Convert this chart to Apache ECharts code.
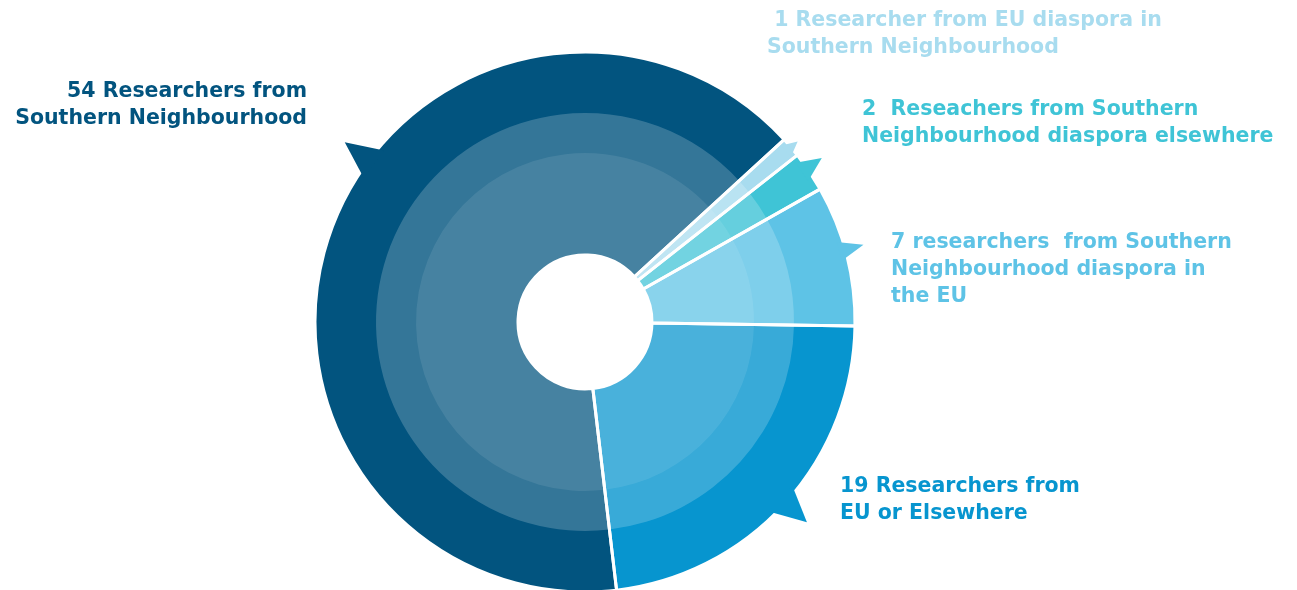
<!DOCTYPE html>
<html>
<head>
<meta charset="utf-8">
<script src="https://cdn.jsdelivr.net/npm/echarts@6/dist/echarts.min.js"></script>
<style>
  html, body { margin: 0; padding: 0; background: #fff; }
  #main { width: 1297px; height: 590px; }
</style>
</head>
<body>
<div id="main"></div>
<script>
// categories, clockwise from the top-right
var categories = [
  ' 1 Researcher from EU diaspora in\nSouthern Neighbourhood',
  '2  Reseachers from Southern\nNeighbourhood diaspora elsewhere',
  '7 researchers  from Southern\nNeighbourhood diaspora in\nthe EU',
  '19 Researchers from\nEU or Elsewhere',
  '54 Researchers from\nSouthern Neighbourhood'
];
var values = [1, 2, 7, 19, 54];
var colors = ['#a8dcef', '#3fc4d6', '#5ec3e6', '#0795cf', '#02547f'];

// label anchor (x, y top, align) and tail (fraction of slice, half width deg, tip radius)
var labelPos = [[767, 7, 'left'], [862, 96, 'left'], [891, 229, 'left'], [840, 473, 'left'], [307, 78, 'right']];
var tails = [[0.5, 1.6, 279], [0.4, 2.4, 288], [0.46, 2.1, 289], [0.5, 3.8, 299], [0.57, 3.7, 300]];

var CX = 585, CY = 322, R_OUT = 270, R_MID = 209, R_IN = 169, R_HOLE = 67;
var START = 42.5;

var total = values.reduce(function (a, b) { return a + b; }, 0);

var pieData = values.map(function (v, i) {
  return { name: categories[i], value: v, itemStyle: { color: colors[i] }, label: { color: colors[i] } };
});

var chart = echarts.init(document.getElementById('main'));

function slicePt(ang, r) {
  var a = ang * Math.PI / 180;
  return [CX + r * Math.cos(a), CY - r * Math.sin(a)];
}

chart.setOption({
  animation: false,
  series: [
    {
      type: 'pie',
      center: [CX, CY],
      radius: [R_HOLE, R_OUT],
      startAngle: START,
      avoidLabelOverlap: false,
      itemStyle: { borderWidth: 0 },
      label: {
        show: true,
        position: 'outside',
        fontFamily: 'DejaVu Sans',
        fontWeight: 'bold',
        fontSize: 20.5,
        lineHeight: 27,
        formatter: '{b}'
      },
      labelLine: { show: false },
      labelLayout: function (p) {
        var lp = labelPos[p.dataIndex];
        return { x: lp[0], y: lp[1], align: lp[2], verticalAlign: 'top', hideOverlap: false };
      },
      data: pieData
    },
    {
      type: 'pie', silent: true,
      center: [CX, CY], radius: [R_HOLE, R_MID], startAngle: START,
      label: { show: false },
      itemStyle: { color: 'rgba(255,255,255,0.2)', borderWidth: 0 },
      data: values.map(function (v) { return { value: v }; })
    },
    {
      type: 'pie', silent: true,
      center: [CX, CY], radius: [R_HOLE, R_IN], startAngle: START,
      label: { show: false },
      itemStyle: { color: 'rgba(255,255,255,0.09)', borderWidth: 0 },
      data: values.map(function (v) { return { value: v }; })
    },
    {
      // white separators between slices
      type: 'pie', silent: true,
      center: [CX, CY], radius: [R_HOLE, R_OUT], startAngle: START,
      label: { show: false },
      itemStyle: { color: 'rgba(0,0,0,0)', borderColor: '#fff', borderWidth: 3 },
      data: values.map(function (v) { return { value: v }; })
    },
    {
      // little speech-bubble tails on the rim
      type: 'custom',
      coordinateSystem: 'none',
      silent: true,
      z: 5,
      data: values,
      renderItem: function (params, api) {
        var i = params.dataIndex;
        var before = 0;
        for (var k = 0; k < i; k++) before += values[k];
        var a0 = START - before / total * 360;
        var span = values[i] / total * 360;
        var t = tails[i];
        var mid = a0 - span * t[0];
        return {
          type: 'polygon',
          shape: { points: [slicePt(mid + t[1], R_OUT - 6), slicePt(mid, t[2]), slicePt(mid - t[1], R_OUT - 6)] },
          style: { fill: colors[i] }
        };
      }
    }
  ]
});
</script>
</body>
</html>
